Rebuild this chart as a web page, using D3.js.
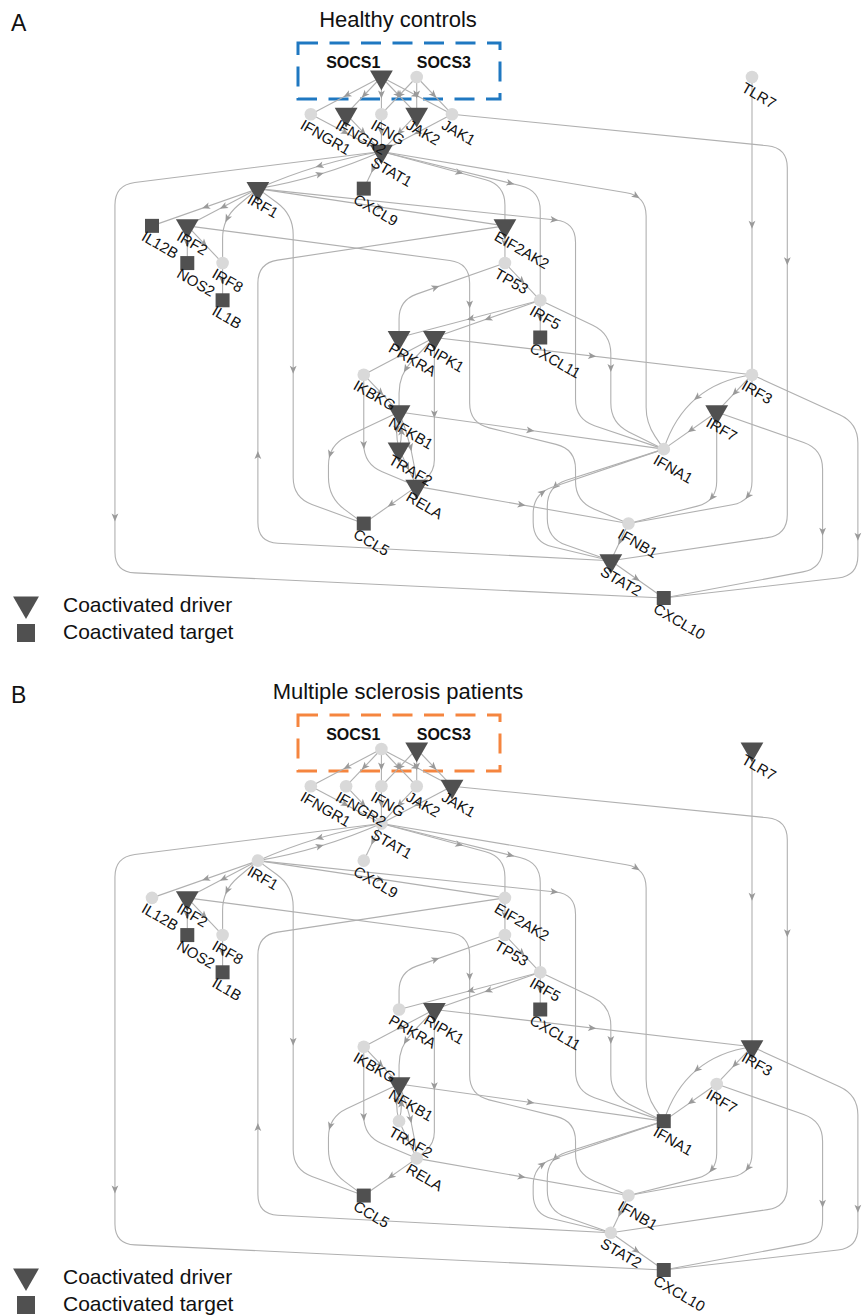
<!DOCTYPE html>
<html>
<head>
<meta charset="utf-8">
<script src="https://cdn.jsdelivr.net/npm/d3@7"></script>
<style>
body { margin: 0; background: #fff; font-family: "Liberation Sans", Arial, Helvetica, sans-serif; }
</style>
</head>
<body>
<div id="chart"></div>
<script>
// layout grid: columns / rows of the hierarchical network layout
var nodeNames = ["SOCS1","SOCS3","TLR7","IFNGR1","IFNGR2","IFNG","JAK2","JAK1","STAT1","IRF1","CXCL9",
                 "IL12B","IRF2","EIF2AK2","NOS2","IRF8","TP53","IL1B","IRF5","PRKRA","RIPK1","CXCL11",
                 "IKBKG","IRF3","NFKB1","IRF7","TRAF2","IFNA1","RELA","CCL5","IFNB1","STAT2","CXCL10"];
var nodeCol = [13,15,34,9,11,13,15,17,13,6,12, 0,2,20,2,4,20,4,22,14,16,22, 12,34,14,32,14,29,15,12,27,26,29];
var nodeRow = [0,0,0,1,1,1,1,1,2,3,3, 4,4,4,5,5,5,6,6,7,7,7, 8,8,9,9,10,10,11,12,12,13,14];

// t = coactivated driver, s = coactivated target, o = not coactivated
var typeHealthy = ["t","o","o","o","t","o","t","o","t","t","s",
                   "s","t","t","s","o","o","s","o","t","t","s",
                   "o","o","t","t","t","o","t","s","o","t","s"];
var typeMS      = ["o","t","t","o","o","o","o","t","o","o","o",
                   "o","t","o","s","o","o","s","o","o","t","s",
                   "o","t","t","o","o","s","o","s","o","o","s"];

// [source, target, routing points (col,row), bend]
var edges = [
  ["SOCS1","IFNGR1"],["SOCS1","IFNGR2"],["SOCS1","IFNG"],["SOCS1","JAK2"],["SOCS1","JAK1"],
  ["SOCS3","IFNG"],["SOCS3","JAK2"],["SOCS3","JAK1"],
  ["IFNGR1","STAT1"],["IFNGR2","STAT1"],["IFNG","STAT1"],["JAK2","STAT1"],["JAK1","STAT1"],
  ["JAK1","STAT2",[[36,1.9],[36,12.3]]],
  ["TLR7","IRF3"],
  ["STAT1","IRF1",null,8],["IRF1","STAT1",null,8],
  ["STAT1","CXCL9"],
  ["STAT1","CXCL10",[[-2.1,2.9],[-2.1,13.3]]],
  ["STAT1","EIF2AK2",[[20,2.9]]],
  ["STAT1","IRF5",[[22,3.05]]],
  ["STAT1","IFNA1",[[28,3.2],[28,9.3]]],
  ["IRF1","IL12B"],["IRF1","IRF2"],
  ["IRF1","IRF8",[[4,3.8]]],
  ["IRF1","CCL5",[[8,3.7],[8,11.3]]],
  ["IRF1","IFNA1",[[24,3.9],[24,9.2]]],
  ["IRF1","EIF2AK2"],
  ["IRF2","NOS2"],["IRF2","IRF8"],
  ["IRF2","IFNB1",[[18,5.0],[18,9.3],[24,10.0],[24,11.4]]],
  ["IRF8","IL1B"],
  ["STAT2","EIF2AK2",[[6,12.5],[6,5.0]]],
  ["EIF2AK2","TP53"],["TP53","IRF5"],
  ["PRKRA","TP53",[[14,6.0]]],
  ["IRF5","CXCL11"],["IRF5","PRKRA"],["IRF5","RIPK1"],
  ["IRF5","IFNA1",[[26,6.9],[26,9.3]]],
  ["RIPK1","IRF3"],["RIPK1","IKBKG"],
  ["RIPK1","NFKB1",[[14,8.0]]],
  ["RIPK1","RELA",[[16,10.6]]],
  ["IKBKG","NFKB1"],
  ["IKBKG","RELA",[[12,10.4]]],
  ["NFKB1","TRAF2",null,5],["TRAF2","NFKB1",null,5],
  ["TRAF2","RELA"],["NFKB1","RELA",null,-6],
  ["NFKB1","CCL5",[[10,9.9],[10,11.3]]],
  ["NFKB1","IFNA1"],
  ["RELA","CCL5"],["RELA","IFNB1"],
  ["IRF3","IFNA1",null,36],["IRF3","IRF7"],["IRF7","IFNA1"],
  ["IRF3","IFNB1",[[34,11.4]]],["IRF7","IFNB1",[[32,11.4]]],
  ["IRF7","CXCL10",[[38,10.0],[38,13.2]]],
  ["IRF3","CXCL10",[[40,9.3],[40,13.4]]],
  ["IFNA1","STAT2",[[22.4,11.0],[22.4,12.4]]],
  ["STAT2","IFNA1",[[21.6,12.5],[21.6,11.2]]],
  ["IFNB1","STAT2"],["STAT2","CXCL10"]
];

var panelLetters = ["A","B"];
var panelTitles = ["Healthy controls","Multiple sclerosis patients"];
var boxColors = ["#1f78c1","#f5853f"];
var legendLabels = ["Coactivated driver","Coactivated target"];

var W = 863, H = 1316, panelShift = 672;

var svg = d3.select("#chart").append("svg")
    .attr("width", W)
    .attr("height", H);

var x = d3.scaleLinear().domain([0, 34]).range([152, 752]);

var triangle = d3.symbol().type(d3.symbolTriangle).size(225);
var square = d3.symbol().type(d3.symbolSquare).size(196);

// polyline with rounded corners
function roundedPath(pts, r) {
	var d = "M" + pts[0][0] + "," + pts[0][1];
	for (var i = 1; i < pts.length - 1; i++) {
		var p0 = pts[i-1], p1 = pts[i], p2 = pts[i+1];
		var l1 = Math.hypot(p1[0]-p0[0], p1[1]-p0[1]),
		    l2 = Math.hypot(p2[0]-p1[0], p2[1]-p1[1]);
		var rr = Math.min(r, l1/2, l2/2);
		var ax = p1[0] - (p1[0]-p0[0])/l1*rr, ay = p1[1] - (p1[1]-p0[1])/l1*rr;
		var bx = p1[0] + (p2[0]-p1[0])/l2*rr, by = p1[1] + (p2[1]-p1[1])/l2*rr;
		d += "L" + ax + "," + ay + "Q" + p1[0] + "," + p1[1] + " " + bx + "," + by;
	}
	var pl = pts[pts.length-1];
	return d + "L" + pl[0] + "," + pl[1];
}

function bentPath(a, b, bend) {
	var dx = b[0]-a[0], dy = b[1]-a[1], len = Math.hypot(dx, dy);
	var cx = (a[0]+b[0])/2 - dy/len*bend, cy = (a[1]+b[1])/2 + dx/len*bend;
	return "M" + a[0] + "," + a[1] + "Q" + cx + "," + cy + " " + b[0] + "," + b[1];
}

function drawPanel(p, types) {
	var off = p * panelShift;
	var y = d3.scaleLinear().domain([0, 14]).range([77 + off, 598 + off]);
	var g = svg.append("g").attr("class", "panel" + p);

	var pos = {};
	nodeNames.forEach(function(n, i) {
		pos[n] = { x: x(nodeCol[i]), y: y(nodeRow[i]), type: types[i] };
	});

	// panel letter and title
	g.append("text").text(panelLetters[p])
		.attr("x", 11).attr("y", 31 + off)
		.attr("font-size", 23).attr("fill", "#111");
	g.append("text").text(panelTitles[p])
		.attr("x", 398).attr("y", 27 + off)
		.attr("text-anchor", "middle")
		.attr("font-size", 22).attr("fill", "#111");

	// dashed box around SOCS nodes
	g.append("rect")
		.attr("x", 298).attr("y", 43 + off)
		.attr("width", 202).attr("height", 56)
		.attr("fill", "none")
		.attr("stroke", boxColors[p])
		.attr("stroke-width", 3)
		.attr("stroke-dasharray", "20,11.5");

	// edges
	var eg = g.append("g");
	edges.forEach(function(e) {
		var a = pos[e[0]], b = pos[e[1]];
		var d;
		if (e[2]) {
			var pts = [[a.x, a.y]].concat(e[2].map(function(v) { return [x(v[0]), y(v[1])]; }), [[b.x, b.y]]);
			d = roundedPath(pts, 20);
		} else if (e[3]) {
			d = bentPath([a.x, a.y], [b.x, b.y], e[3]);
		} else {
			d = "M" + a.x + "," + a.y + "L" + b.x + "," + b.y;
		}
		var path = eg.append("path")
			.attr("d", d)
			.attr("fill", "none")
			.attr("stroke", "#b0b0b0")
			.attr("stroke-width", 1.1);
		var node = path.node();
		var L = node.getTotalLength();
		var m = node.getPointAtLength(L * 0.5),
		    m0 = node.getPointAtLength(L * 0.5 - 1),
		    m1 = node.getPointAtLength(L * 0.5 + 1);
		var ang = Math.atan2(m1.y - m0.y, m1.x - m0.x) * 180 / Math.PI;
		eg.append("path")
			.attr("d", "M3,0L-5,-3.4L-3,0L-5,3.4Z")
			.attr("transform", "translate(" + m.x + "," + m.y + ") rotate(" + ang + ")")
			.attr("fill", "#9a9a9a");
	});

	// nodes
	var ng = g.append("g");
	nodeNames.forEach(function(n) {
		var q = pos[n];
		if (q.type === "t") {
			ng.append("path").attr("d", triangle)
				.attr("transform", "translate(" + q.x + "," + q.y + ") rotate(180)")
				.attr("fill", "#505050");
		} else if (q.type === "s") {
			ng.append("path").attr("d", square)
				.attr("transform", "translate(" + q.x + "," + q.y + ")")
				.attr("fill", "#505050");
		} else {
			ng.append("circle")
				.attr("cx", q.x).attr("cy", q.y).attr("r", 6.3)
				.attr("fill", "#d9d9d9");
		}
	});

	// labels
	nodeNames.forEach(function(n) {
		var q = pos[n];
		if (n === "SOCS1" || n === "SOCS3") {
			g.append("text").text(n)
				.attr("x", n === "SOCS1" ? q.x - 1 : q.x)
				.attr("y", q.y - 9)
				.attr("text-anchor", n === "SOCS1" ? "end" : "start")
				.attr("font-size", 16).attr("font-weight", "bold")
				.attr("fill", "#111");
		} else {
			g.append("text").text(n)
				.attr("transform", "translate(" + (q.x - 6) + "," + (q.y + 4) + ") rotate(30)")
				.attr("dy", "0.75em")
				.attr("font-size", 15).attr("fill", "#111");
		}
	});

	// legend
	var lg = g.append("g").attr("transform", "translate(0," + off + ")");
	lg.append("path").attr("d", d3.symbol().type(d3.symbolTriangle).size(290))
		.attr("transform", "translate(26,604) rotate(180)")
		.attr("fill", "#505050");
	lg.append("path").attr("d", d3.symbol().type(d3.symbolSquare).size(324))
		.attr("transform", "translate(26,633)")
		.attr("fill", "#505050");
	lg.selectAll("text.leg").data(legendLabels).enter().append("text")
		.attr("class", "leg")
		.text(function(d) { return d; })
		.attr("x", 63)
		.attr("y", function(d, i) { return 612 + i * 27; })
		.attr("font-size", 21).attr("fill", "#111");
}

drawPanel(0, typeHealthy);
drawPanel(1, typeMS);
</script>
</body>
</html>
